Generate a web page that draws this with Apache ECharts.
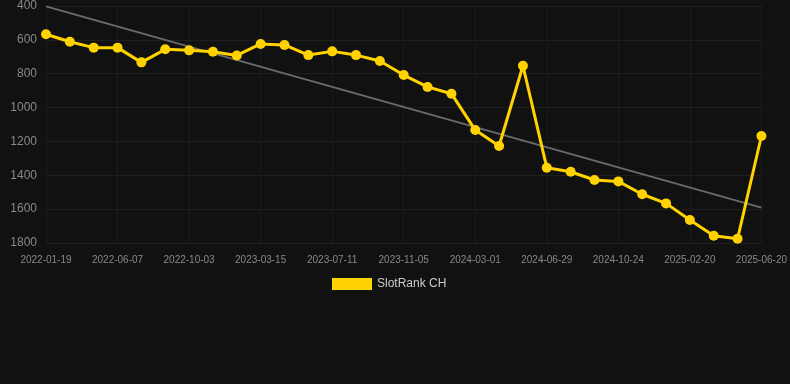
<!DOCTYPE html>
<html><head><meta charset="utf-8">
<script src="https://cdn.jsdelivr.net/npm/echarts@6/dist/echarts.min.js"></script>
<style>html,body{margin:0;padding:0;background:#111111;}#c{width:790px;height:384px;}</style>
</head><body><div id="c"></div>
<script>
var categories = ["2022-01-19","2022-03-05","2022-04-21","2022-06-07","2022-07-16","2022-08-25","2022-10-03","2022-11-25","2023-01-19","2023-03-15","2023-04-23","2023-06-01","2023-07-11","2023-08-28","2023-09-17","2023-11-05","2023-12-22","2024-01-14","2024-03-01","2024-04-10","2024-05-20","2024-06-29","2024-08-07","2024-09-15","2024-10-24","2024-12-01","2025-01-12","2025-02-20","2025-04-01","2025-05-11","2025-06-20"];
var rankValues = [567,611,646,646,733,656,662,670,692,624,630,690,668,690,725,808,878,918,1133,1227,753,1355,1379,1428,1436,1512,1566,1664,1757,1775,1168];
var trendStart = 402;
var trendEnd = 1591;
var yTicks = {min:400, max:1800, interval:200};

var trendData = [[categories[0], trendStart], [categories[categories.length-1], trendEnd]];

var chart = echarts.init(document.getElementById('c'));
chart.setOption({
  backgroundColor: '#111111',
  animation: false,
  grid: {left: 46, right: 28, top: 6, bottom: 141, containLabel: false},
  legend: {
    top: 273, left: 327,
    itemWidth: 40, itemHeight: 12, itemGap: 10,
    textStyle: {color: '#cccccc', fontSize: 12, fontFamily: 'Liberation Sans, Arial, sans-serif'},
    data: [{name: 'SlotRank CH', icon: 'rect'}]
  },
  xAxis: {
    type: 'category', data: categories, boundaryGap: false,
    axisLine: {show: false}, axisTick: {show: false},
    axisLabel: {interval: 2, color: '#888888', fontSize: 10, margin: 12, fontFamily: 'Liberation Sans, Arial, sans-serif'},
    splitLine: {show: true, interval: 2, lineStyle: {color: '#1c1c1c', width: 1}}
  },
  yAxis: {
    type: 'value', inverse: true, min: yTicks.min, max: yTicks.max, interval: yTicks.interval,
    axisLine: {show: false}, axisTick: {show: false},
    axisLabel: {color: '#888888', fontSize: 12, margin: 9, formatter: function (v) { return String(v); }, fontFamily: 'Liberation Sans, Arial, sans-serif'},
    splitLine: {lineStyle: {color: '#1f1f1f', width: 1}}
  },
  series: [
    {
      name: 'Trend', type: 'line', data: trendData, symbol: 'none', silent: true,
      lineStyle: {color: '#6a6a6a', width: 2}, z: 1
    },
    {
      name: 'SlotRank CH', type: 'line', data: rankValues,
      symbol: 'circle', symbolSize: 10,
      itemStyle: {color: '#FFD200'},
      lineStyle: {color: '#FFD200', width: 3}, z: 2
    }
  ]
});
</script></body></html>
